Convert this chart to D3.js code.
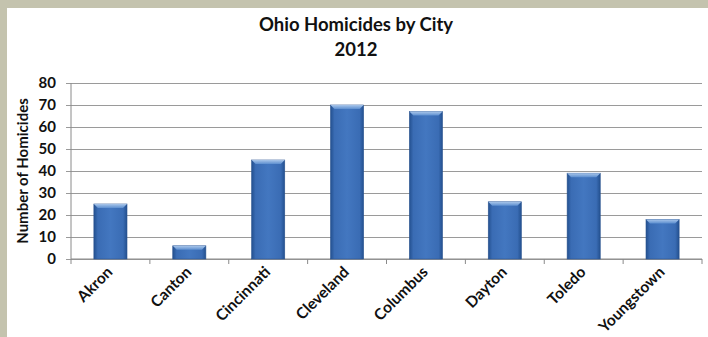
<!DOCTYPE html>
<html lang="en">
<head>
    <meta charset="UTF-8">
    <title>Ohio Homicides by City</title>
    <script src="https://d3js.org/d3.v7.min.js"></script>
    <style>
        body { margin: 0; background: #c4c3ae; }
        text { font-family: Lato, 'Open Sans', sans-serif; font-weight: bold; fill: #111; }
        .domain { display: none; }
        .y-axis .tick line { stroke: #9a9a9a; stroke-width: 1; }
        .y-axis text { font-size: 15px; }
    </style>
</head>
<body>
    <svg id="chart" width="708" height="337"></svg>
    <script>
        const cities = ["Akron", "Canton", "Cincinnati", "Cleveland", "Columbus", "Dayton", "Toledo", "Youngstown"];
        const homicides = [25, 6, 45, 70, 67, 26, 39, 18];
        const yTicks = [0, 10, 20, 30, 40, 50, 60, 70, 80];

        const width = 708, height = 337;
        const plotLeft = 71, plotRight = 702, plotTop = 83, plotBottom = 259;

        const chart = d3.select("#chart");

        // white panel inside the beige frame
        chart.append("rect")
            .attr("x", 7).attr("y", 8)
            .attr("width", width - 7).attr("height", height - 8)
            .attr("fill", "#fff");

        const defs = chart.append("defs");
        const grad = defs.append("linearGradient").attr("id", "barGrad")
            .attr("x1", "0").attr("x2", "1").attr("y1", "0").attr("y2", "0");
        grad.append("stop").attr("offset", "0%").attr("stop-color", "#23508f");
        grad.append("stop").attr("offset", "12%").attr("stop-color", "#3a6cb4");
        grad.append("stop").attr("offset", "50%").attr("stop-color", "#4377c0");
        grad.append("stop").attr("offset", "88%").attr("stop-color", "#3a6cb4");
        grad.append("stop").attr("offset", "100%").attr("stop-color", "#23508f");

        const topGrad = defs.append("linearGradient").attr("id", "topGrad")
            .attr("x1", "0").attr("x2", "0").attr("y1", "0").attr("y2", "1");
        topGrad.append("stop").attr("offset", "0%").attr("stop-color", "#a9c6ea");
        topGrad.append("stop").attr("offset", "100%").attr("stop-color", "#5d8fd0");

        const x = d3.scaleBand()
            .domain(cities)
            .range([plotLeft, plotRight])
            .paddingInner(0.58)
            .paddingOuter(0.29);

        const y = d3.scaleLinear()
            .domain([0, 80])
            .range([plotBottom, plotTop]);

        // grid + y labels
        chart.append("g")
            .attr("class", "y-axis")
            .attr("transform", `translate(${plotLeft},0)`)
            .call(d3.axisLeft(y).tickValues(yTicks).tickSize(-(plotRight - plotLeft)).tickPadding(15))
            .call(g => g.selectAll(".tick").append("line")
                .attr("x1", -5).attr("x2", 0).attr("stroke", "#8a8a8a"));

        // y axis line
        chart.append("line")
            .attr("x1", plotLeft).attr("x2", plotLeft)
            .attr("y1", plotTop).attr("y2", plotBottom)
            .attr("stroke", "#8a8a8a");

        // x axis with ticks at band boundaries
        const xLine = chart.append("g").attr("class", "x-axis-line");
        xLine.append("line")
            .attr("x1", plotLeft).attr("x2", plotRight)
            .attr("y1", plotBottom).attr("y2", plotBottom)
            .attr("stroke", "#8a8a8a");
        const boundaries = d3.range(cities.length + 1).map(i => plotLeft + i * (plotRight - plotLeft) / cities.length);
        xLine.selectAll(".bt").data(boundaries).enter().append("line")
            .attr("x1", d => d).attr("x2", d => d)
            .attr("y1", plotBottom).attr("y2", plotBottom + 5)
            .attr("stroke", "#8a8a8a");

        // bars
        const bars = chart.append("g").selectAll("g")
            .data(cities)
            .enter().append("g");

        bars.append("rect")
            .attr("x", d => x(d))
            .attr("y", (d, i) => y(homicides[i]))
            .attr("width", x.bandwidth())
            .attr("height", (d, i) => plotBottom - y(homicides[i]))
            .attr("fill", "url(#barGrad)")
            .attr("stroke", "#2c5591")
            .attr("stroke-width", 0.6);

        // bevel on top of bars
        bars.append("path")
            .attr("d", (d, i) => {
                const x0 = x(d), x1 = x(d) + x.bandwidth(), t = y(homicides[i]);
                const b = Math.min(4, (plotBottom - t) / 2);
                return `M${x0},${t}L${x1},${t}L${x1 - 4},${t + b}L${x0 + 4},${t + b}Z`;
            })
            .attr("fill", "url(#topGrad)");

        // x labels
        chart.append("g").attr("class", "x-axis")
            .selectAll("text")
            .data(cities)
            .enter().append("text")
            .attr("transform", d => `translate(${x(d) + x.bandwidth() / 2 + 3},${plotBottom + 14}) rotate(-45)`)
            .attr("text-anchor", "end")
            .style("font-size", "15.5px")
            .text(d => d);

        // titles
        chart.append("text")
            .attr("x", 356).attr("y", 31)
            .attr("text-anchor", "middle")
            .style("font-size", "18.5px")
            .text("Ohio Homicides by City");
        chart.append("text")
            .attr("x", 356).attr("y", 56)
            .attr("text-anchor", "middle")
            .style("font-size", "18.5px")
            .text("2012");

        chart.append("text")
            .attr("transform", `translate(28,${(plotTop + plotBottom) / 2}) rotate(-90)`)
            .attr("text-anchor", "middle")
            .style("font-size", "15px")
            .text("Number of Homicides");
    </script>
</body>
</html>
